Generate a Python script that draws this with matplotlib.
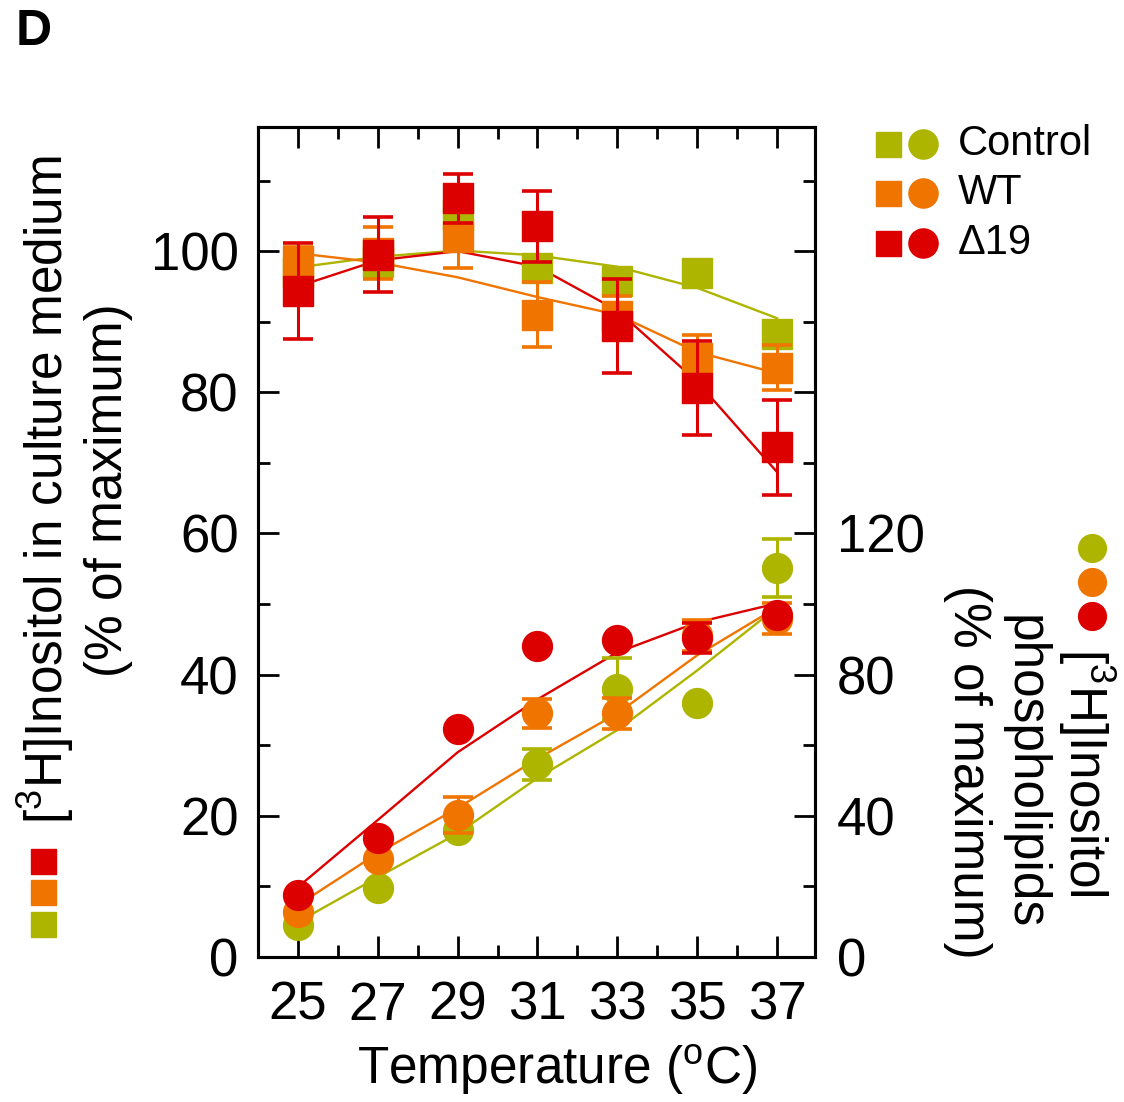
import numpy as np
import matplotlib
matplotlib.use("Agg")
import matplotlib.pyplot as plt
from matplotlib.lines import Line2D
from matplotlib.ticker import MultipleLocator, FixedLocator, FuncFormatter

plt.rcParams['font.family'] = ['Liberation Sans', 'DejaVu Sans']
plt.rcParams['mathtext.fontset'] = 'custom'
plt.rcParams['mathtext.rm'] = 'Liberation Sans'

# temperature series (degC)
temps = [25, 27, 29, 31, 33, 35, 37]

# [3H]inositol left in the culture medium, % of maximum (squares, left axis)
control_medium = [97.0, 98.5, 105.1, 97.6, 95.8, 96.9, 88.2]
wt_medium = [98.6, 99.7, 102.0, 91.0, 90.8, 84.8, 83.5]
d19_medium = [94.3, 99.5, 107.5, 103.5, 89.4, 80.6, 72.2]
control_medium_err = [0, 0, 0, 0, 0, 0, 0]
wt_medium_err = [2.0, 3.7, 4.4, 4.6, 2.8, 3.3, 3.2]
d19_medium_err = [6.8, 5.3, 3.5, 5.0, 6.7, 6.7, 6.7]

# fitted curves through the medium data
control_medium_fit = [97.7, 99.2, 100.1, 99.4, 97.8, 94.8, 90.5]
wt_medium_fit = [99.7, 98.4, 96.3, 93.5, 91.0, 85.7, 82.7]
d19_medium_fit = [95.0, 98.7, 100.0, 97.8, 91.6, 81.5, 68.7]

# [3H]inositol phospholipids, % of maximum (circles, right axis)
control_pl = [9.0, 19.6, 35.9, 54.6, 75.9, 71.9, 110.1]
wt_pl = [12.7, 27.7, 40.2, 69.0, 69.0, 91.1, 95.9]
d19_pl = [17.5, 33.7, 64.5, 88.0, 89.7, 90.3, 96.8]
control_pl_err = [0, 0, 0, 4.4, 8.7, 0, 8.2]
wt_pl_err = [0, 0, 5.2, 4.1, 4.5, 4.5, 4.3]
d19_pl_err = [0, 0, 0, 0, 0, 4.2, 0]

control_pl_fit = [9.9, 22.6, 35.0, 50.7, 64.3, 81.2, 99.1]
wt_pl_fit = [14.7, 29.4, 42.2, 56.2, 69.0, 85.5, 99.1]
d19_pl_fit = [19.8, 38.8, 58.0, 73.0, 86.3, 94.8, 100.2]

groups = ['Control', 'WT', '\u039419']
colors = ['#adb500', '#f07400', '#dc0000']

TICK_FS = 38
LABEL_FS = 37
fig = plt.figure(figsize=(11.24, 11.02), dpi=100)
ax = fig.add_axes([0.2295, 0.1316, 0.4956, 0.7532])
ax2 = ax.twinx()


def draw_series(axis, y, err, fit, color, marker, ms):
    axis.plot(temps, fit, '-', color=color, lw=1.7, zorder=2)
    x = np.array(temps, dtype=float)
    y = np.array(y)
    err = np.array(err)
    keep = err > 0
    if keep.any():
        axis.errorbar(x[keep], y[keep], yerr=err[keep], fmt='none', ecolor=color,
                      elinewidth=2.2, capsize=11, capthick=2.6, zorder=3)
    axis.plot(x, y, marker, color=color, ms=ms, mec=color, ls='none', zorder=3)


medium = [(control_medium, control_medium_err, control_medium_fit),
          (wt_medium, wt_medium_err, wt_medium_fit),
          (d19_medium, d19_medium_err, d19_medium_fit)]
phospho = [(control_pl, control_pl_err, control_pl_fit),
           (wt_pl, wt_pl_err, wt_pl_fit),
           (d19_pl, d19_pl_err, d19_pl_fit)]

for (y, e, f), c in zip(medium, colors):
    draw_series(ax, y, e, f, c, 's', 22)
for (y, e, f), c in zip(phospho, colors):
    draw_series(ax2, y, e, f, c, 'o', 21.5)

# axes, limits and ticks
ax.set_xlim(24.0, 37.95)
ax.set_ylim(0, 117.6)
ax2.set_ylim(0, 235.2)

ax.xaxis.set_major_locator(FixedLocator(temps))
ax.xaxis.set_minor_locator(MultipleLocator(1))
ax.yaxis.set_major_locator(FixedLocator([0, 20, 40, 60, 80, 100]))
ax.yaxis.set_minor_locator(MultipleLocator(10))
ax2.yaxis.set_major_locator(FixedLocator([0, 40, 80, 120, 160, 200]))
ax2.yaxis.set_minor_locator(MultipleLocator(20))
ax2.yaxis.set_major_formatter(FuncFormatter(lambda v, p: '%d' % v if v <= 120 else ''))

ax.tick_params(axis='both', which='major', direction='in', length=15, width=2,
               labelsize=TICK_FS, top=True, right=False)
ax.tick_params(axis='both', which='minor', direction='in', length=8.5, width=2,
               top=True, right=False)
ax.tick_params(axis='x', which='major', pad=17)
ax.tick_params(axis='y', which='major', pad=14)
ax2.tick_params(axis='y', which='major', direction='in', length=15, width=2,
                labelsize=TICK_FS, pad=16)
ax2.tick_params(axis='y', which='minor', direction='in', length=8.5, width=2)

for a in (ax, ax2):
    for s in a.spines.values():
        s.set_linewidth(2.2)

ax.set_xlabel('Temperature ($\\mathregular{^{o}}$C)', fontsize=LABEL_FS, labelpad=8)
ax.xaxis.label.set_x(0.538)

# axis titles with their marker keys
fig.text(74 / 1124, 1 - 490 / 1102,
         '[$\\mathregular{^{3}}$H]Inositol in culture medium\n(% of maximum)',
         rotation=90, ha='center', va='center', multialignment='center',
         fontsize=LABEL_FS, linespacing=1.2)
for yy, c in zip([924, 892, 861], colors):
    fig.add_artist(Line2D([43 / 1124], [1 - yy / 1102], marker='s', ms=18,
                          color=c, mec=c, transform=fig.transFigure))

fig.text(1030 / 1124, 1 - 772 / 1102,
         '[$\\mathregular{^{3}}$H]Inositol\nphospholipids\n(% of maximum)',
         rotation=270, ha='center', va='center', multialignment='center',
         fontsize=LABEL_FS, linespacing=1.2)
for yy, c in zip([548, 582, 616], colors):
    fig.add_artist(Line2D([1092 / 1124], [1 - yy / 1102], marker='o', ms=20,
                          color=c, mec=c, transform=fig.transFigure))

# group key, top right
for yy, c, name in zip([144, 193, 243], colors, groups):
    fig.add_artist(Line2D([888 / 1124], [1 - yy / 1102], marker='s', ms=18,
                          color=c, mec=c, transform=fig.transFigure))
    fig.add_artist(Line2D([923 / 1124], [1 - yy / 1102], marker='o', ms=21,
                          color=c, mec=c, transform=fig.transFigure))
    fig.text(958 / 1124, 1 - yy / 1102, name, fontsize=30, ha='left', va='center')

fig.text(16 / 1124, 1 - 32 / 1102, 'D', fontsize=36, fontweight='bold',
         ha='left', va='center')

fig.savefig('out.png', dpi=100)
